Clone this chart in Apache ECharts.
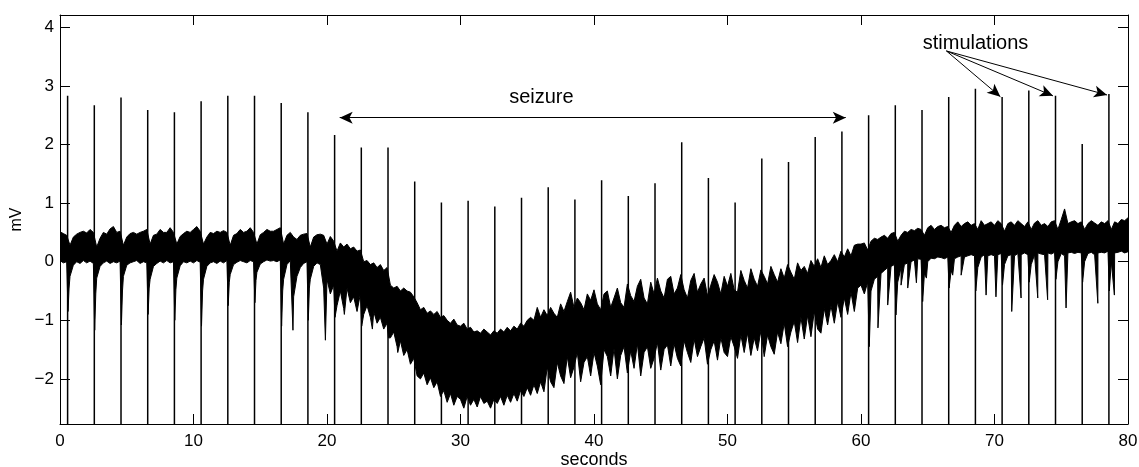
<!DOCTYPE html>
<html>
<head>
<meta charset="utf-8">
<script src="https://cdn.jsdelivr.net/npm/echarts@6/dist/echarts.min.js"></script>
<style>
html,body{margin:0;padding:0;background:#fff;}
#chart{width:1139px;height:467px;}
</style>
</head>
<body>
<div id="chart"></div>
<script>
// ---------------- data ----------------
// envelope samples every 0.25 s, t = 0 ... 80 s
const SAMPLE_STEP = 0.25;

// upper edge of the recorded trace (mV)
const upperEnv = [
  0.51, 0.48, 0.45, 0.28, 0.42, 0.47, 0.50, 0.52,
  0.49, 0.55, 0.50, 0.25, 0.40, 0.50, 0.47, 0.56,
  0.60, 0.50, 0.52, 0.28, 0.42, 0.48, 0.50, 0.47,
  0.50, 0.52, 0.55, 0.30, 0.45, 0.47, 0.55, 0.50,
  0.50, 0.58, 0.50, 0.30, 0.43, 0.48, 0.52, 0.50,
  0.55, 0.60, 0.52, 0.30, 0.42, 0.50, 0.48, 0.52,
  0.50, 0.53, 0.50, 0.28, 0.45, 0.48, 0.55, 0.50,
  0.52, 0.58, 0.50, 0.30, 0.46, 0.50, 0.55, 0.52,
  0.52, 0.55, 0.58, 0.30, 0.45, 0.50, 0.42, 0.38,
  0.45, 0.47, 0.48, 0.25, 0.42, 0.46, 0.47, 0.45,
  0.30, 0.43, 0.35, 0.18, 0.32, 0.25, 0.30, 0.22,
  0.25, 0.18, 0.20, 0.00, 0.02, -0.05, -0.02, -0.10,
  -0.05, -0.15, -0.10, -0.40, -0.45, -0.42, -0.50, -0.45,
  -0.50, -0.52, -0.60, -0.70, -0.82, -0.78, -0.88, -0.84,
  -0.90, -0.85, -0.95, -0.92, -1.00, -1.05, -0.98, -1.08,
  -1.10, -1.05, -1.15, -1.12, -1.20, -1.18, -1.22, -1.15,
  -1.20, -1.25, -1.18, -1.22, -1.15, -1.20, -1.12, -1.18,
  -1.10, -1.15, -1.05, -1.10, -1.00, -0.95, -1.00, -0.78,
  -0.95, -0.82, -0.92, -0.78, -0.88, -0.95, -0.72, -0.85,
  -0.68, -0.52, -0.78, -0.62, -0.70, -0.82, -0.55, -0.66,
  -0.48, -0.72, -0.82, -0.55, -0.50, -0.78, -0.62, -0.45,
  -0.70, -0.78, -0.38, -0.58, -0.68, -0.42, -0.30, -0.62,
  -0.72, -0.35, -0.55, -0.28, -0.50, -0.62, -0.30, -0.25,
  -0.55, -0.45, -0.22, -0.48, -0.62, -0.32, -0.20, -0.52,
  -0.38, -0.28, -0.58, -0.40, -0.22, -0.35, -0.55, -0.25,
  -0.42, -0.20, -0.48, -0.52, -0.15, -0.32, -0.45, -0.12,
  -0.30, -0.42, -0.14, -0.25, -0.38, -0.08, -0.22, -0.35,
  -0.12, -0.28, -0.05, -0.18, -0.30, -0.02, -0.15, -0.08,
  -0.20, 0.02, -0.08, 0.05, -0.10, 0.10, -0.05, 0.02,
  0.12, 0.00, 0.18, 0.08, 0.22, 0.10, 0.28, 0.30,
  0.30, 0.32, 0.20, 0.35, 0.40, 0.38, 0.42, 0.45,
  0.40, 0.48, 0.50, 0.35, 0.45, 0.52, 0.50, 0.55,
  0.53, 0.57, 0.55, 0.45, 0.58, 0.62, 0.55, 0.60,
  0.62, 0.58, 0.60, 0.50, 0.62, 0.68, 0.60, 0.65,
  0.68, 0.62, 0.65, 0.55, 0.70, 0.62, 0.65, 0.68,
  0.62, 0.70, 0.65, 0.52, 0.65, 0.68, 0.62, 0.70,
  0.65, 0.60, 0.68, 0.55, 0.66, 0.70, 0.62, 0.65,
  0.60, 0.68, 0.70, 0.55, 0.72, 0.90, 0.65, 0.68,
  0.70, 0.65, 0.68, 0.55, 0.65, 0.70, 0.66, 0.62,
  0.68, 0.65, 0.70, 0.55, 0.68, 0.65, 0.72, 0.70,
  0.75
];

// lower edge of the recorded trace (mV)
const lowerEnv = [
  0.02, -0.02, 0.00, -0.25, -0.06, 0.00, -0.03, 0.02,
  -0.02, 0.01, -0.03, -0.28, -0.08, -0.02, 0.01, -0.03,
  0.00, -0.02, 0.01, -0.25, -0.06, -0.02, 0.00, 0.02,
  -0.03, 0.00, -0.02, -0.30, -0.08, -0.03, 0.01, -0.02,
  0.02, -0.02, 0.00, -0.28, -0.07, 0.00, -0.02, 0.01,
  -0.02, 0.02, -0.01, -0.30, -0.08, -0.02, 0.00, -0.03,
  0.01, -0.02, 0.02, -0.22, -0.05, -0.01, 0.02, 0.00,
  -0.02, 0.02, 0.00, -0.18, -0.04, 0.00, 0.03, 0.01,
  0.02, 0.00, 0.03, -0.30, -0.05, 0.02, -0.60, -0.25,
  -0.10, -0.03, 0.00, -0.30, -0.08, -0.02, -0.05, -0.45,
  -0.30, -0.55, -0.40, -0.75, -0.50, -0.80, -0.45, -0.70,
  -0.60, -0.85, -0.55, -0.90, -0.75, -0.95, -0.85, -1.05,
  -0.95, -1.15, -1.05, -1.30, -1.20, -1.45, -1.35, -1.60,
  -1.50, -1.75, -1.65, -1.95, -2.00, -1.90, -2.10, -1.98,
  -2.15, -2.05, -2.30, -2.20, -2.40, -2.25, -2.45, -2.30,
  -2.35, -2.50, -2.30, -2.45, -2.35, -2.48, -2.30, -2.42,
  -2.38, -2.50, -2.35, -2.42, -2.30, -2.45, -2.28, -2.40,
  -2.25, -2.38, -2.20, -2.30, -2.15, -2.28, -2.10, -2.25,
  -2.05, -2.22, -1.80, -2.05, -2.15, -1.72, -1.95, -2.08,
  -1.62, -1.98, -1.80, -1.55, -2.05, -1.72, -1.62, -1.95,
  -1.55, -1.78, -2.10, -1.50, -1.62, -1.95, -1.48, -2.00,
  -1.60, -1.45, -1.90, -1.52, -1.82, -1.40, -1.95, -1.55,
  -1.45, -1.82, -1.65, -1.38, -1.85, -1.50, -1.42, -1.78,
  -1.40, -1.65, -1.78, -1.35, -1.55, -1.72, -1.32, -1.62,
  -1.45, -1.30, -1.75, -1.50, -1.35, -1.68, -1.30, -1.55,
  -1.62, -1.28, -1.45, -1.65, -1.25, -1.55, -1.22, -1.60,
  -1.30, -1.52, -1.18, -1.62, -1.25, -1.45, -1.58, -1.20,
  -1.40, -1.05, -1.45, -1.20, -1.02, -1.38, -0.95, -1.32,
  -0.92, -1.28, -0.85, -1.15, -1.22, -0.80, -1.08, -0.75,
  -1.05, -0.68, -0.95, -0.62, -0.90, -0.52, -0.85, -0.45,
  -0.40, -0.55, -0.35, -0.50, -0.30, -0.25, -0.20, -0.15,
  -0.10, -0.08, -0.05, -0.35, -0.10, -0.05, -0.02, 0.00,
  0.03, 0.05, 0.04, -0.20, 0.00, 0.06, 0.05, 0.08,
  0.07, 0.05, 0.08, -0.15, 0.05, 0.08, 0.10, 0.08,
  0.10, 0.12, 0.10, -0.10, 0.08, 0.12, 0.10, 0.12,
  0.10, 0.12, 0.14, -0.05, 0.10, 0.12, 0.10, 0.14,
  0.12, 0.15, 0.12, -0.05, 0.12, 0.15, 0.13, 0.12,
  0.15, 0.13, 0.16, 0.00, 0.14, 0.10, 0.15, 0.16,
  0.14, 0.16, 0.15, 0.00, 0.14, 0.16, 0.12, 0.15,
  0.16, 0.15, 0.18, 0.00, 0.15, 0.16, 0.18, 0.15,
  0.17
];

// sharp downward deflections of the trace [seconds, mV]
const sharpDips = [
  [0.60,-0.85],[0.68,-0.45],[2.60,-1.17],[2.68,-0.55],[4.60,-1.08],[4.68,-0.50],
  [6.60,-0.90],[6.68,-0.45],[8.60,-1.00],[8.68,-0.48],[10.60,-1.10],[10.68,-0.50],
  [12.60,-0.75],[12.68,-0.35],[14.60,-0.70],[14.68,-0.32],[16.60,-1.10],[16.68,-0.50],
  [17.45,-1.17],[18.60,-1.00],[18.68,-0.45],[19.88,-1.34],
  [20.60,-0.95],[21.30,-0.90],[22.60,-1.10],[23.40,-1.15],[24.60,-1.30],[25.30,-1.55],
  [60.62,-1.45],[61.27,-1.13],[62.00,-0.74],[62.62,-0.91],[63.00,-0.40],[63.50,-0.45],
  [64.15,-0.36],[64.62,-0.68],[64.90,-0.28],[66.60,-0.45],[66.87,-0.23],[67.50,-0.23],
  [68.60,-0.50],[69.37,-0.57],[70.11,-0.60],[70.60,-0.40],[71.29,-0.85],[71.99,-0.62],
  [72.60,-0.35],[73.24,-0.62],[73.98,-0.65],[74.60,-0.30],[75.36,-0.79],
  [76.60,-0.35],[77.74,-0.71],[78.60,-0.50],[78.98,-0.57]
];

// stimulation artefacts: times (s) and peak values (mV); they run off the bottom of the axes
const stimTimes = [
  0.57, 2.57, 4.57, 6.57, 8.57, 10.57, 12.57, 14.57, 16.57, 18.57,
  20.57, 22.57, 24.57, 26.57, 28.57, 30.57, 32.57, 34.57, 36.57, 38.57,
  40.57, 42.57, 44.57, 46.57, 48.57, 50.57, 52.57, 54.57, 56.57, 58.57,
  60.57, 62.57, 64.57, 66.57, 68.57, 70.57, 72.57, 74.57, 76.57, 78.57
];
const stimPeaks = [
  2.83, 2.67, 2.80, 2.59, 2.55, 2.74, 2.83, 2.83, 2.71, 2.55,
  2.16, 1.95, 1.95, 1.37, 1.01, 1.04, 0.94, 1.09, 1.27, 1.06,
  1.39, 1.12, 1.34, 2.04, 1.43, 1.01, 1.76, 1.70, 2.13, 2.22,
  2.50, 2.67, 2.59, 2.81, 2.95, 2.81, 2.92, 2.83, 2.01, 2.86
];
const stimTrough = -3.5;

const yTicks = [-2, -1, 0, 1, 2, 3, 4];

// ---------------- build series data ----------------
const upperData = upperEnv.map((v, i) => [i * SAMPLE_STEP, v]);
const lowerData = lowerEnv.map((v, i) => [i * SAMPLE_STEP, v])
  .concat(sharpDips)
  .sort((a, b) => a[0] - b[0]);
const spikeData = [];
stimTimes.forEach((t, i) => {
  spikeData.push([t, stimTrough], [t, stimPeaks[i]], [t, stimTrough]);
});

const FONT = '"Liberation Sans", Arial, Helvetica, sans-serif';
const fmtMinus = v => String(v).replace('-', '\u2212');

const chart = echarts.init(document.getElementById('chart'), null, {renderer: 'canvas'});
chart.setOption({
  animation: false,
  backgroundColor: '#fff',
  grid: {left: 60, right: 11, top: 15, bottom: 43, containLabel: false, outerBoundsMode: 'none'},
  xAxis: [{
    type: 'value', min: 0, max: 80, interval: 10, position: 'bottom', z: 10,
    axisLine: {show: true, onZero: false, lineStyle: {color: '#000', width: 1}},
    axisTick: {show: true, inside: true, length: 10, lineStyle: {color: '#000', width: 1}},
    axisLabel: {color: '#000', fontSize: 17, fontFamily: FONT, margin: 9},
    splitLine: {show: false},
    name: 'seconds', nameLocation: 'middle', nameGap: 27, nameMoveOverlap: false,
    nameTextStyle: {color: '#000', fontSize: 18, fontFamily: FONT}
  }, {
    type: 'value', min: 0, max: 80, interval: 10, position: 'top', z: 10,
    axisLine: {show: true, onZero: false, lineStyle: {color: '#000', width: 1}},
    axisTick: {show: true, inside: true, length: 10, lineStyle: {color: '#000', width: 1}},
    axisLabel: {show: false},
    splitLine: {show: false}
  }],
  yAxis: [{
    type: 'value', min: -2.77, max: 4.21, position: 'left', z: 10,
    axisLine: {show: true, onZero: false, lineStyle: {color: '#000', width: 1}},
    axisTick: {show: true, inside: true, length: 10, customValues: yTicks, lineStyle: {color: '#000', width: 1}},
    axisLabel: {color: '#000', fontSize: 17, fontFamily: FONT, margin: 6, customValues: yTicks, formatter: fmtMinus},
    splitLine: {show: false},
    name: 'mV', nameLocation: 'middle', nameGap: 35, nameMoveOverlap: false,
    nameTextStyle: {color: '#000', fontSize: 16, fontFamily: FONT}
  }, {
    type: 'value', min: -2.77, max: 4.21, position: 'right', z: 10,
    axisLine: {show: true, onZero: false, lineStyle: {color: '#000', width: 1}},
    axisTick: {show: true, inside: true, length: 10, customValues: yTicks, lineStyle: {color: '#000', width: 1}},
    axisLabel: {show: false},
    splitLine: {show: false}
  }],
  series: [{
    name: 'upper', type: 'line', xAxisIndex: 0, yAxisIndex: 0, data: upperData,
    showSymbol: false, symbol: 'none', silent: true, z: 2, clip: true,
    lineStyle: {color: '#000', width: 1},
    areaStyle: {color: '#000', opacity: 1, origin: 'start'}
  }, {
    name: 'lower', type: 'line', xAxisIndex: 0, yAxisIndex: 0, data: lowerData,
    showSymbol: false, symbol: 'none', silent: true, z: 3, clip: true,
    lineStyle: {color: '#000', width: 1},
    areaStyle: {color: '#fff', opacity: 1, origin: 'start'}
  }, {
    name: 'stimulations', type: 'line', xAxisIndex: 0, yAxisIndex: 0, data: spikeData,
    showSymbol: false, symbol: 'none', silent: true, z: 4, clip: true,
    lineStyle: {color: '#000', width: 1.5},
    markLine: {
      silent: true, animation: false, precision: 4,
      symbol: ['none', 'arrow'], symbolSize: [9, 13],
      lineStyle: {type: 'solid', color: '#000', width: 1},
      label: {show: false},
      emphasis: {disabled: true},
      data: [
        [{coord: [20.95, 2.457], symbol: 'arrow'}, {coord: [58.86, 2.457], symbol: 'arrow'}],
        [{coord: [66.4, 3.596]}, {coord: [70.44, 2.816]}],
        [{coord: [66.4, 3.596]}, {coord: [74.38, 2.83]}],
        [{coord: [66.4, 3.596]}, {coord: [78.43, 2.845]}]
      ]
    },
    markPoint: {
      silent: true, animation: false, symbol: 'circle', symbolSize: 1,
      itemStyle: {color: 'rgba(0,0,0,0)'},
      label: {show: true, position: 'inside', formatter: '{b}', color: '#000', fontSize: 20, fontFamily: FONT},
      data: [
        {name: 'seizure', coord: [36.06, 2.80]},
        {name: 'stimulations', coord: [68.58, 3.72]}
      ]
    }
  }]
});
</script>
</body>
</html>
